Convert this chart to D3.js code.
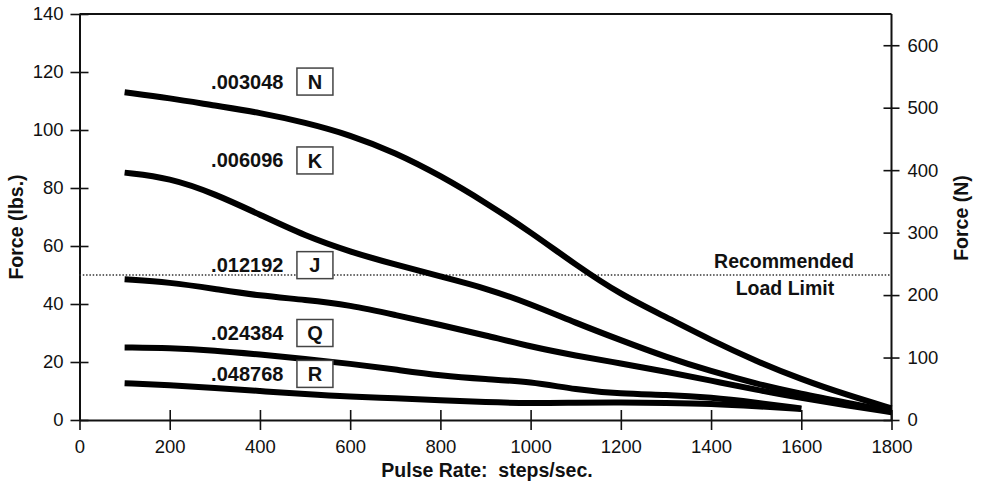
<!DOCTYPE html>
<html>
<head>
<meta charset="utf-8">
<script src="https://cdn.jsdelivr.net/npm/d3@7"></script>
<style>
  body { margin: 0; background: #fff; }
  svg text { font-family: "Liberation Sans", Arial, Helvetica, sans-serif; fill: #111; }
  .tick text { font-size: 18.5px; }
  .axisTitle { font-size: 19.5px; font-weight: bold; }
  .coef { font-size: 20px; font-weight: bold; }
</style>
</head>
<body>
<div id="chart"></div>
<script>
// pulse rate samples (steps/sec)
var pulse = [100, 200, 300, 400, 500, 600, 700, 800, 900, 1000, 1100, 1200, 1300, 1400, 1500, 1600, 1700, 1800];

// force (lbs.) for each lead
var forceN = [113, 111, 108.4, 106, 102.6, 98.3, 92.2, 84.3, 75, 64.8, 53.5, 43.2, 35.5, 27.5, 20.3, 14, 8.7, 4];
var forceK = [85.3, 83.5, 78, 70.8, 63.5, 58, 53.6, 49.5, 45.5, 40, 33.5, 27.5, 21.7, 16.8, 12.5, 9, 6, 3];
var forceJ = [48.5, 47.5, 45.2, 42.8, 41.5, 39.6, 36.2, 32.8, 29.2, 25.3, 22.2, 19.5, 16.7, 13.6, 10.4, 7.6, 5, 2.7];
var forceQ = [25, 24.8, 24, 22.6, 21.1, 19.4, 17.4, 15.3, 14.1, 13.2, 10.5, 9, 8.7, 7.8, 6, 4];
var forceR = [12.7, 12, 11.1, 10, 8.9, 8, 7.5, 6.8, 6.1, 5.8, 6, 6.1, 5.9, 5.6, 4.8, 3.8];

var leadLetters = ["N", "K", "J", "Q", "R"];
var leadCoefs = [".003048", ".006096", ".012192", ".024384", ".048768"];
var labelForce = [116.7, 89.5, 53.4, 30, 15.9];

var xTicks = [0, 200, 400, 600, 800, 1000, 1200, 1400, 1600, 1800];
var lbsTicks = [0, 20, 40, 60, 80, 100, 120, 140];
var newtonTicks = [0, 100, 200, 300, 400, 500, 600];
var loadLimit = 50;

var svgWidth = 985;
var svgHeight = 486;

var svg = d3.select("#chart")
  .append("svg")
  .attr("width", svgWidth)
  .attr("height", svgHeight);

var xScale = d3.scaleLinear().domain([0, 1800]).range([79.5, 891.5]);
var yScale = d3.scaleLinear().domain([0, 140]).range([420, 14]);
var yScaleN = d3.scaleLinear().domain([0, 650]).range([420, 14]);

// frame top
svg.append("line")
  .attr("x1", xScale(0)).attr("x2", xScale(1800))
  .attr("y1", yScale(140)).attr("y2", yScale(140))
  .attr("stroke", "#111").attr("stroke-width", 2);

// left axis
var leftAxis = svg.append("g")
  .attr("transform", `translate(${xScale(0)},0)`)
  .call(d3.axisLeft(yScale).tickValues(lbsTicks).tickSize(9).tickSizeOuter(0).tickPadding(7));
leftAxis.selectAll(".tick line").attr("x2", -9).attr("x1", 9);

// right axis in newtons
var rightAxis = svg.append("g")
  .attr("transform", `translate(${xScale(1800)},0)`)
  .call(d3.axisRight(yScaleN).tickValues(newtonTicks).tickSize(8).tickSizeOuter(0).tickPadding(8));
rightAxis.selectAll(".tick line").attr("x1", -8);
rightAxis.select(".domain").attr("d", `M0,${yScale(140)}V${yScale(0)}`);

// bottom axis
var bottomAxis = svg.append("g")
  .attr("transform", `translate(0,${yScale(0)})`)
  .call(d3.axisBottom(xScale).tickValues(xTicks).tickFormat(d3.format("d"))
    .tickSize(10).tickSizeOuter(0).tickPadding(10));
bottomAxis.selectAll(".tick line").attr("y1", -10);

svg.selectAll(".domain").attr("stroke", "#111").attr("stroke-width", 2);
svg.selectAll(".tick line").attr("stroke", "#111").attr("stroke-width", 1.6);
svg.selectAll(".tick text").attr("fill", "#222");

// recommended load limit
svg.append("line")
  .attr("x1", xScale(0)).attr("x2", xScale(1800))
  .attr("y1", yScale(loadLimit)).attr("y2", yScale(loadLimit))
  .attr("stroke", "#333").attr("stroke-width", 1.6)
  .attr("stroke-dasharray", "1.5,1.8");

svg.append("text")
  .attr("class", "axisTitle")
  .attr("x", 784).attr("y", yScale(loadLimit) - 7)
  .attr("text-anchor", "middle")
  .text("Recommended");
svg.append("text")
  .attr("class", "axisTitle")
  .attr("x", 785).attr("y", yScale(loadLimit) + 20)
  .attr("text-anchor", "middle")
  .text("Load Limit");

// curves
var series = [forceN, forceK, forceJ, forceQ, forceR];
var line = d3.line()
  .x((d, i) => xScale(pulse[i]))
  .y(d => yScale(d))
  .curve(d3.curveBasis);

svg.selectAll(".curve")
  .data(series)
  .enter()
  .append("path")
  .attr("class", "curve")
  .attr("d", d => line(d))
  .attr("fill", "none")
  .attr("stroke", "#000")
  .attr("stroke-width", 6);

// lead labels
leadLetters.forEach(function(letter, i) {
  var cy = yScale(labelForce[i]);
  svg.append("text")
    .attr("class", "coef")
    .attr("x", xScale(452))
    .attr("y", cy)
    .attr("dy", "0.35em")
    .attr("text-anchor", "end")
    .text(leadCoefs[i]);
  svg.append("rect")
    .attr("x", xScale(482)).attr("y", cy - 13.5)
    .attr("width", 36).attr("height", 27)
    .attr("fill", "#fff")
    .attr("stroke", "#444").attr("stroke-width", 1.5);
  svg.append("text")
    .attr("class", "coef")
    .attr("x", xScale(482) + 18)
    .attr("y", cy)
    .attr("dy", "0.36em")
    .attr("text-anchor", "middle")
    .text(letter);
});

// axis titles
svg.append("text")
  .attr("class", "axisTitle")
  .attr("transform", "rotate(-90)")
  .attr("x", -227).attr("y", 23)
  .attr("text-anchor", "middle")
  .text("Force (lbs.)");

svg.append("text")
  .attr("class", "axisTitle")
  .attr("transform", "rotate(-90)")
  .attr("x", -218).attr("y", 968)
  .attr("text-anchor", "middle")
  .text("Force (N)");

svg.append("text")
  .attr("class", "axisTitle")
  .attr("x", 487).attr("y", 477)
  .attr("text-anchor", "middle")
  .attr("xml:space", "preserve")
  .text("Pulse Rate:  steps/sec.");
</script>
</body>
</html>
